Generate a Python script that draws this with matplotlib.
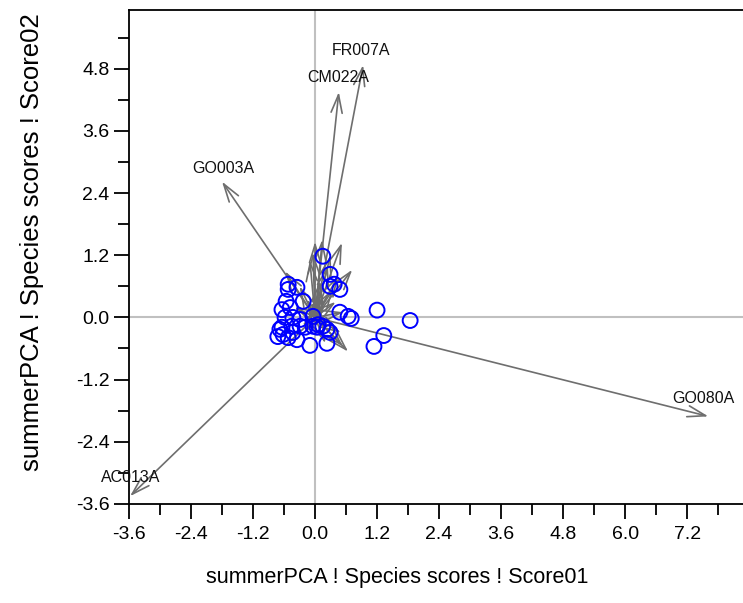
import matplotlib
matplotlib.use("Agg")
import matplotlib.pyplot as plt
from matplotlib.ticker import MultipleLocator

plt.rcParams["font.family"] = ["Liberation Sans", "DejaVu Sans"]

# species loadings (arrow tips), labelled ones first
LABELLED = ["GO080A", "AC013A", "GO003A", "CM022A", "FR007A"]
LAB_X = [7.61, -3.58, -1.80, 0.46, 0.93]
LAB_Y = [-1.91, -3.45, 2.62, 4.35, 4.87]
# label anchor (left, baseline) for each labelled species
TXT_X = [6.91, -4.14, -2.38, -0.15, 0.33]
TXT_Y = [-1.66, -3.18, 2.79, 4.55, 5.07]

# unlabelled species loadings, all short
SP_X = [0.00, 0.14, 0.52, -0.58, 0.72, 0.64, 0.54, -0.04, 0.30, 0.45,
        -0.30, 0.40, 0.50, -0.20, 0.20, 0.25, -0.10, 0.10, -0.40, 0.35,
        -0.25, 0.15, 0.55, -0.15, 0.05, -0.05, 0.20, 0.30]
SP_Y = [1.46, 1.50, 1.44, 0.89, 0.92, -0.66, -0.56, 1.25, 1.20, 0.80,
        0.60, 0.30, -0.30, -0.30, -0.50, 1.00, 1.10, 0.70, 0.20, 0.55,
        -0.15, 0.40, 0.10, 0.35, 0.45, 0.30, 0.25, -0.10]

# sample scores
SITE_X = [0.15, 0.29, 0.29, 0.37, 0.48, -0.52, -0.52, -0.35, -0.23, -0.56,
          -0.64, -0.48, 0.48, 0.64, 0.70, 1.20, 1.84, 1.33, 1.14, -0.04,
          -0.58, -0.43, -0.64, -0.45, -0.29, -0.19, -0.04, 0.06, 0.15, 0.23,
          0.29, -0.72, -0.62, -0.52, -0.35, -0.10, 0.23, -0.68, -0.29, -0.43,
          0.04]
SITE_Y = [1.18, 0.83, 0.60, 0.64, 0.54, 0.64, 0.54, 0.58, 0.31, 0.31,
          0.15, 0.19, 0.10, 0.02, -0.02, 0.14, -0.06, -0.35, -0.56, 0.02,
          0.00, 0.00, -0.19, -0.17, -0.17, -0.19, -0.17, -0.14, -0.17, -0.23,
          -0.29, -0.37, -0.33, -0.39, -0.43, -0.54, -0.50, -0.23, -0.04, -0.29,
          -0.19]

ARROW_COLOR = "#6e6e6e"

fig = plt.figure(figsize=(7.43, 6.03), dpi=100)
ax = fig.add_axes([0.1736, 0.1642, 0.8264, 0.82])

ax.set_xlim(-3.6, 8.28)
ax.set_ylim(-3.6, 5.94)

ax.axhline(0, color="#c0c0c0", lw=1.5, zorder=1)
ax.axvline(0, color="#c0c0c0", lw=1.5, zorder=1)

arrow_style = "->,head_length=0.65,head_width=0.2"
for x, y in zip(SP_X + LAB_X, SP_Y + LAB_Y):
    ax.annotate("", xy=(x, y), xytext=(0, 0),
                arrowprops=dict(arrowstyle=arrow_style, color=ARROW_COLOR,
                                lw=1.2, shrinkA=0, shrinkB=0,
                                mutation_scale=20),
                zorder=2)

for name, tx, ty in zip(LABELLED, TXT_X, TXT_Y):
    ax.text(tx, ty, name, fontsize=11.5, ha="left", va="baseline",
            color="#111111", clip_on=False, zorder=3)

ax.scatter(SITE_X, SITE_Y, s=115, facecolors="none", edgecolors="#0000ff",
           linewidths=1.4, zorder=4)

ax.spines["right"].set_visible(False)
for side in ["left", "bottom", "top"]:
    ax.spines[side].set_linewidth(1.3)
    ax.spines[side].set_color("black")

ax.xaxis.set_minor_locator(MultipleLocator(0.6))
ax.yaxis.set_minor_locator(MultipleLocator(0.6))
ax.set_xticks([-3.6 + 1.2 * i for i in range(10)])
ax.set_yticks([-3.6 + 1.2 * i for i in range(8)])
fmt = plt.FuncFormatter(lambda v, p: f"{round(v, 1) + 0.0:.1f}")
ax.xaxis.set_major_formatter(fmt)
ax.yaxis.set_major_formatter(fmt)
ax.tick_params(which="major", direction="out", length=11, width=1.3,
               labelsize=14, pad=3, top=False, right=False)
ax.tick_params(which="minor", direction="out", length=8, width=1.3,
               top=False, right=False)
ax.tick_params(axis="x", which="major", pad=5)

xl = ax.set_xlabel("summerPCA ! Species scores ! Score01", fontsize=15.5)
yl = ax.set_ylabel("summerPCA ! Species scores ! Score02", fontsize=18.5)
xl.set_va("center")
yl.set_va("center")
ax.xaxis.set_label_coords(0.4365, -0.148)
ax.yaxis.set_label_coords(-0.158, 0.53)

fig.savefig("out.png", dpi=100)
